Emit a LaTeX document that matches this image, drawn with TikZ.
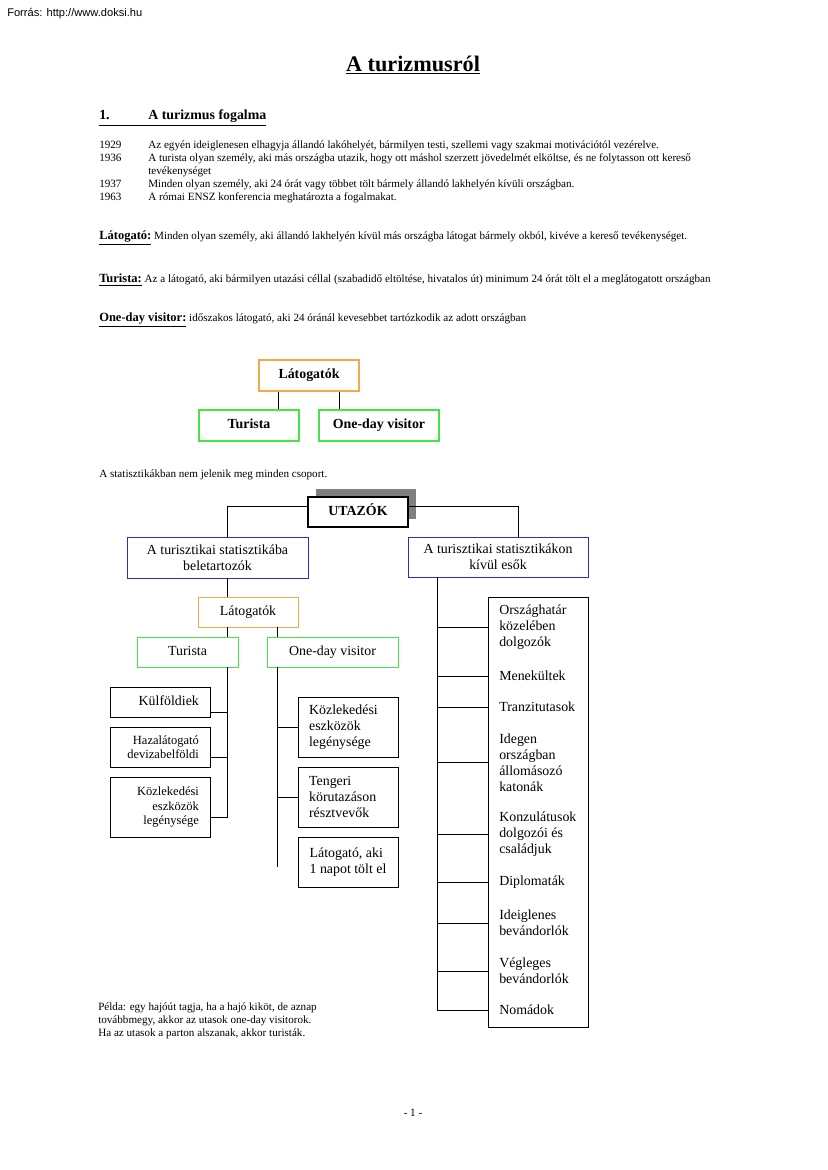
\documentclass[tikz,border=0pt]{standalone}
\usepackage{fontspec}
\setmainfont{Liberation Serif}
\newfontfamily\forrasfont{Liberation Sans}
\usetikzlibrary{calc,shadows}

\definecolor{latorange}{RGB}{242,170,70}
\definecolor{turgreen}{RGB}{70,228,70}
\definecolor{statblue}{RGB}{45,45,205}

\newcommand{\evszam}[1]{\makebox[35.3pt][l]{#1}}
\newcommand{\fogalom}[1]{\textbf{\fontsize{9}{10}\selectfont\underline{#1}}}

\tikzset{
  body/.style={inner sep=0pt, font=\fontsize{8}{9.4}\selectfont},
  box/.style={draw, line width=0.6pt, inner sep=0pt, align=center, font=\fontsize{10}{11.5}\selectfont},
  boldbox/.style={box, line width=0.9pt, font=\bfseries\fontsize{10}{12}\selectfont},
  oneline/.style={text height=7pt, text depth=2pt},
  leftbox/.style={box, text width=56pt, inner xsep=8pt, align=right, font=\fontsize{9}{10.5}\selectfont},
  rightbox/.style={box, text width=56pt, inner xsep=8pt, align=left},
  item/.style={anchor=west, inner sep=0pt, align=left, font=\fontsize{10}{11.5}\selectfont},
  link/.style={line width=0.6pt},
}

\begin{document}
\begin{tikzpicture}[x=0.72pt, y=-0.72pt]
    \useasboundingbox (0,0) rectangle (827,1170);

    % Header and title
    \node[anchor=west, inner sep=0pt, font=\forrasfont\fontsize{8}{9}\selectfont] (forras) at (7,14) {Forrás: http://www.doksi.hu};
    \node[inner sep=0pt, font=\bfseries\fontsize{16}{18}\selectfont] (cim) at (413,65) {\underline{A turizmusról}};
    \node[anchor=west, inner sep=0pt, font=\bfseries\fontsize{10}{12}\selectfont] (fejezet) at (99,118)
        {\underline{\evszam{1.}A turizmus fogalma}};

    % Years
    \node[body, anchor=north west, align=left] (evek) at (99,140)
        {\evszam{1929}Az egyén ideiglenesen elhagyja állandó lakóhelyét, bármilyen testi, szellemi vagy szakmai motivációtól vezérelve.\\
         \evszam{1936}A turista olyan személy, aki más országba utazik, hogy ott máshol szerzett jövedelmét elköltse, és ne folytasson ott kereső\\
         \evszam{}tevékenységet\\
         \evszam{1937}Minden olyan személy, aki 24 órát vagy többet tölt bármely állandó lakhelyén kívüli országban.\\
         \evszam{1963}A római ENSZ konferencia meghatározta a fogalmakat.};

    % Definitions
    \node[body, anchor=west] (def1) at (99,238) {\fogalom{Látogató:} Minden olyan személy, aki állandó lakhelyén kívül más országba látogat bármely okból, kivéve a kereső tevékenységet.};
    \node[body, anchor=west] (def2) at (99,280) {\fogalom{Turista:} Az a látogató, aki bármilyen utazási céllal (szabadidő eltöltése, hivatalos út) minimum 24 órát tölt el a meglátogatott országban};
    \node[body, anchor=west] (def3) at (99,320) {\fogalom{One-day visitor:} időszakos látogató, aki 24 óránál kevesebbet tartózkodik az adott országban};

    % Small tree
    \node[boldbox, oneline, draw=latorange, minimum width=72pt, minimum height=22.3pt] (lat1) at (309,375.5) {Látogatók};
    \node[boldbox, oneline, draw=turgreen, minimum width=72pt, minimum height=22.3pt] (tur1) at (249,425.5) {Turista};
    \node[boldbox, oneline, draw=turgreen, minimum width=86.4pt, minimum height=22.3pt] (odv1) at (379,425.5) {One-day visitor};
    \draw[link] ($(lat1.south west)!0.2!(lat1.south east)$) coordinate (lat1a) -- (lat1a |- tur1.north);
    \draw[link] ($(lat1.south west)!0.8!(lat1.south east)$) coordinate (lat1b) -- (lat1b |- odv1.north);

    \node[body, anchor=west] (megj) at (99,475) {A statisztikákban nem jelenik meg minden csoport.};

    % Main tree
    \node[boldbox, oneline, fill=white, minimum width=72pt, minimum height=21.6pt,
          drop shadow={shadow xshift=5.8pt, shadow yshift=5.8pt, fill=black!50, opacity=1}] (utazok) at (358,512) {UTAZÓK};
    \node[box, draw=statblue, minimum width=130.3pt, minimum height=29.5pt] (belul) at (217.5,557.5) {A turisztikai statisztikába\\beletartozók};
    \node[box, draw=statblue, minimum width=129.6pt, minimum height=28.8pt] (kivul) at (498,557) {A turisztikai statisztikákon\\kívül esők};
    \draw[link] (utazok.174) -| ($(belul.north west)!0.552!(belul.north east)$);
    \draw[link] (utazok.6) -| ($(kivul.north west)!0.611!(kivul.north east)$);

    % Inside the statistics
    \node[box, oneline, draw=latorange, minimum width=72pt, minimum height=21.6pt] (lat2) at (248,612) {Látogatók};
    \node[box, oneline, draw=turgreen, minimum width=72.7pt, minimum height=21.6pt] (tur2) at (187.5,652) {Turista};
    \node[box, oneline, draw=turgreen, minimum width=94.3pt, minimum height=21.6pt] (odv2) at (332.5,652) {One-day visitor};
    \draw[link] ($(lat2.north west)!0.3!(lat2.north east)$) coordinate (lat2top) -- (lat2top |- belul.south);
    \draw[link] ($(lat2.south west)!0.3!(lat2.south east)$) coordinate (lspine) -- (lspine |- tur2.north);
    \draw[link] ($(lat2.south west)!0.79!(lat2.south east)$) coordinate (rspine) -- (rspine |- odv2.north);

    \node[leftbox, oneline, font=\fontsize{10}{11.5}\selectfont, minimum height=21.6pt] (kulf) at (160,702) {Külföldiek};
    \node[leftbox, minimum height=28.8pt] (haza) at (160,747) {Hazalátogató\\devizabelföldi};
    \node[leftbox, minimum height=43.2pt] (kozl1) at (160,807) {Közlekedési\\eszközök\\legénysége};
    \draw[link] (lspine |- tur2.south) -- ([yshift=-7.2pt]kozl1.east -| lspine);
    \foreach \b in {kulf,haza,kozl1}
        \draw[link] ([yshift=-7.2pt]\b.east) -- ([yshift=-7.2pt]\b.east -| lspine);

    \node[rightbox, minimum height=43.2pt] (rb1) at (348,727) {Közlekedési\\eszközök\\legénysége};
    \node[rightbox, minimum height=43.2pt] (rb2) at (348,797) {Tengeri\\körutazáson\\résztvevők};
    \node[box, align=left, minimum width=72pt, minimum height=36pt] (rb3) at (348,862) {Látogató, aki\\1 napot tölt el};
    \draw[link] (rspine |- odv2.south) -- ([yshift=-3.6pt]rb3.west -| rspine);
    \foreach \b in {rb1,rb2}
        \draw[link] (\b.west) -- (\b.west -| rspine);

    % Outside the statistics
    \node[box, minimum width=72pt, minimum height=309.6pt] (lista) at (538,812) {};
    \node[item] (tetel1) at (499,627.5) {Országhatár\\közelében\\dolgozók};
    \node[item] (tetel2) at (499,676) {Menekültek};
    \node[item] (tetel3) at (499,707) {Tranzitutasok};
    \node[item] (tetel4) at (499,762.5) {Idegen\\országban\\állomásozó\\katonák};
    \node[item] (tetel5) at (499,834) {Konzulátusok\\dolgozói és\\családjuk};
    \node[item] (tetel6) at (499,882) {Diplomaták};
    \node[item] (tetel7) at (499,923) {Ideiglenes\\bevándorlók};
    \node[item] (tetel8) at (499,971) {Végleges\\bevándorlók};
    \node[item] (tetel9) at (499,1010) {Nomádok};
    \draw[link] ($(kivul.south west)!0.167!(kivul.south east)$) coordinate (kspine)
        -- (kspine |- tetel9.west) -- (tetel9.west -| lista.west);
    \foreach \i in {1,...,8}
        \draw[link] (kspine |- tetel\i.west) -- (tetel\i.west -| lista.west);

    % Example and page number
    \node[body, anchor=north west, align=left] (pelda) at (98,1002)
        {Példa: egy hajóút tagja, ha a hajó kiköt, de aznap\\továbbmegy, akkor az utasok one-day visitorok.\\Ha az utasok a parton alszanak, akkor turisták.};
    \node[body] (oldal) at (413,1113) {- 1 -};

\end{tikzpicture}
\end{document}
